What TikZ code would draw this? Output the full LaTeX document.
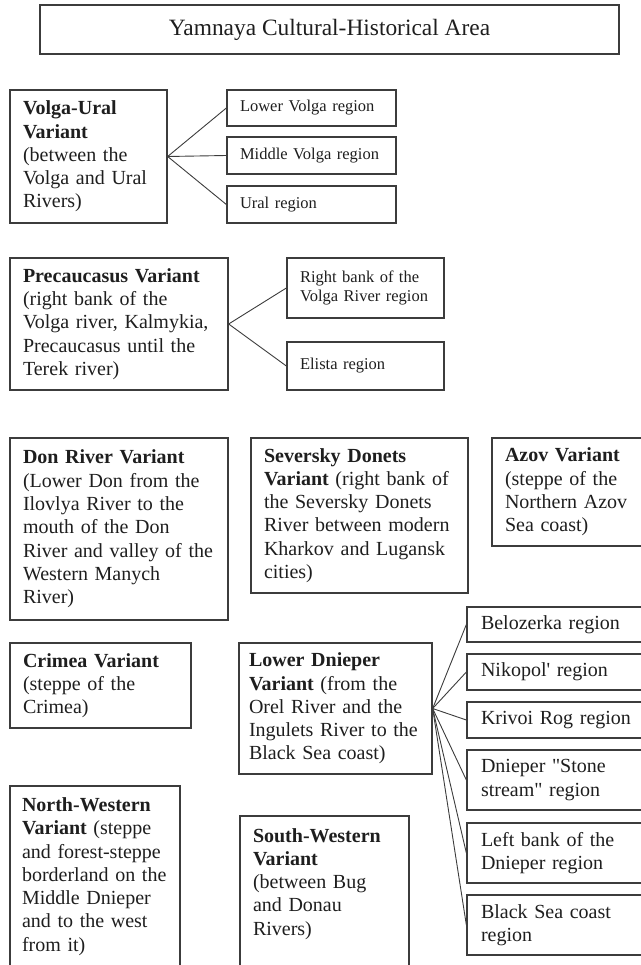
\documentclass[tikz,border=0pt]{standalone}
\usepackage{fontspec}
\setmainfont{Liberation Serif}
\definecolor{ymFrame}{HTML}{3C3C3C}
\definecolor{ymText}{HTML}{1E1E1E}

\begin{document}
\begin{tikzpicture}[x=1pt, y=-1pt,
    variant/.style={draw=ymFrame, line width=1.3pt, text=ymText, align=left, inner xsep=13pt, inner ysep=0pt, font=\fontsize{20}{23.3}\selectfont},
    region/.style={variant, font=\fontsize{16.5}{19.5}\selectfont},
    link/.style={draw=ymFrame, line width=0.9pt}]
    \useasboundingbox (0,0) rectangle (640,965);

    % heading
    \node[variant, align=center, minimum width=579pt, minimum height=49pt, font=\fontsize{23.4}{27}\selectfont] (area) at (329.5,29.5) {Yamnaya Cultural-Historical Area};

    % Volga-Ural
    \node[variant, minimum width=157pt, minimum height=133pt, text width=131pt] (volgaural) at (88.5,156.5) {
        \textbf{Volga-Ural}\\
        \textbf{Variant}\\
        (between the\\
        Volga and Ural\\
        Rivers)};
    \node[region, minimum width=169pt, minimum height=36pt, text width=143pt] (lowervolga) at (311.5,108) {Lower Volga region};
    \node[region, minimum width=169pt, minimum height=37pt, text width=143pt] (middlevolga) at (311.5,155.5) {Middle Volga region};
    \node[region, minimum width=169pt, minimum height=37pt, text width=143pt] (ural) at (311.5,204.5) {Ural region};

    % Precaucasus
    \node[variant, minimum width=218pt, minimum height=132pt, text width=192pt] (precaucasus) at (119,324) {
        \textbf{Precaucasus Variant}\\
        (right bank of the\\
        Volga river, Kalmykia,\\
        Precaucasus until the\\
        Terek river)};
    \node[region, minimum width=157pt, minimum height=60pt, text width=131pt] (rightbank) at (365.5,288) {Right bank of the\\Volga River region};
    \node[region, minimum width=157pt, minimum height=48pt, text width=131pt] (elista) at (365.5,366) {Elista region};

    % middle row
    \node[variant, minimum width=218pt, minimum height=182pt, text width=192pt] (don) at (119,529) {
        \textbf{Don River Variant}\\
        (Lower Don from the\\
        Ilovlya River to the\\
        mouth of the Don\\
        River and valley of the\\
        Western Manych\\
        River)};
    \node[variant, minimum width=217pt, minimum height=155pt, text width=191pt] (seversky) at (359.5,515.5) {
        \textbf{Seversky Donets}\\
        \textbf{Variant} (right bank of\\
        the Seversky Donets\\
        River between modern\\
        Kharkov and Lugansk\\
        cities)};
    \node[variant, minimum width=156pt, minimum height=108pt, text width=130pt] (azov) at (570,492) {
        \textbf{Azov Variant}\\
        (steppe of the\\
        Northern Azov\\
        Sea coast)};

    % Crimea and Lower Dnieper
    \node[variant, minimum width=181pt, minimum height=85pt, text width=155pt] (crimea) at (100.5,685.5) {
        \textbf{Crimea Variant}\\
        (steppe of the\\
        Crimea)};
    \node[variant, inner xsep=10pt, minimum width=193pt, minimum height=131pt, text width=173pt] (lowerdnieper) at (335.5,708.5) {
        \textbf{Lower Dnieper}\\
        \textbf{Variant} (from the\\
        Orel River and the\\
        Ingulets River to the\\
        Black Sea coast)};
    \node[variant, inner xsep=14pt, minimum width=183pt, minimum height=35pt, text width=155pt] (belozerka) at (558.5,624.5) {Belozerka region};
    \node[variant, inner xsep=14pt, minimum width=183pt, minimum height=36pt, text width=155pt] (nikopol) at (558.5,672) {Nikopol\textquotesingle{} region};
    \node[variant, inner xsep=14pt, minimum width=183pt, minimum height=36pt, text width=155pt] (krivoirog) at (558.5,720) {Krivoi Rog region};
    \node[variant, inner xsep=14pt, minimum width=183pt, minimum height=60pt, text width=155pt] (stonestream) at (558.5,780) {Dnieper \textquotedbl Stone\\stream\textquotedbl{} region};
    \node[variant, inner xsep=14pt, minimum width=183pt, minimum height=60pt, text width=155pt] (leftbank) at (558.5,853) {Left bank of the\\Dnieper region};
    \node[variant, inner xsep=14pt, minimum width=183pt, minimum height=60pt, text width=155pt] (blacksea) at (558.5,925) {Black Sea coast\\region};

    % bottom row
    \node[variant, inner xsep=12pt, minimum width=170pt, minimum height=181pt, text width=146pt] (northwest) at (95,876.5) {
        \textbf{North-Western}\\
        \textbf{Variant} (steppe\\
        and forest-steppe\\
        borderland on the\\
        Middle Dnieper\\
        and to the west\\
        from it)};
    \node[variant, minimum width=169pt, minimum height=178pt, text width=143pt] (southwest) at (324.5,905) {
        \textbf{South-Western}\\
        \textbf{Variant}\\
        (between Bug\\
        and Donau\\
        Rivers)\\~\\~};

    % links
    \foreach \r in {lowervolga,middlevolga,ural}
        \draw[link] (volgaural.east) -- (\r.west);
    \foreach \r in {rightbank,elista}
        \draw[link] (precaucasus.east) -- (\r.west);
    \foreach \r in {belozerka,nikopol,krivoirog,stonestream,leftbank,blacksea}
        \draw[link] (lowerdnieper.east) -- (\r.west);
\end{tikzpicture}
\end{document}
